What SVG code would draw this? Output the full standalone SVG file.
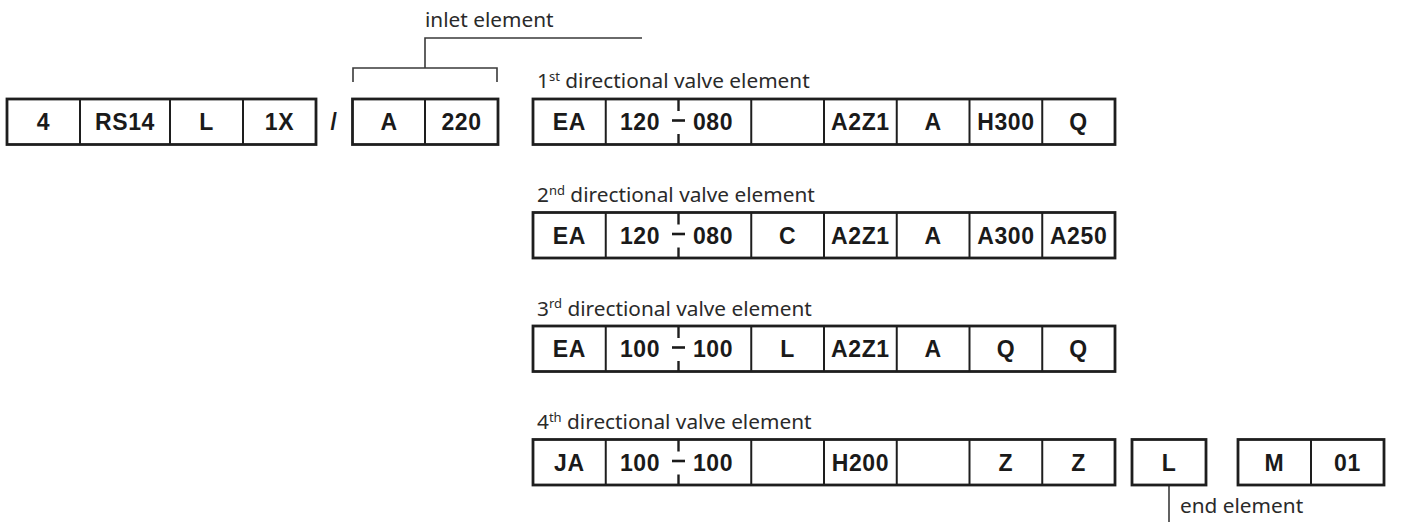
<svg xmlns="http://www.w3.org/2000/svg" width="1426" height="522" viewBox="0 0 1426 522">
<style>
.box{fill:#fff;stroke:#1e1e1e;stroke-width:2.8}
.div{stroke:#1e1e1e;stroke-width:2}
.t{font-family:"Liberation Sans",Arial,sans-serif;font-weight:bold;font-size:23px;letter-spacing:0.6px;fill:#1a1a1a;text-anchor:middle}
.lbl{font-family:"Noto Sans","Liberation Sans",sans-serif;font-size:20.8px;fill:#2a2a2a}
.sup{font-size:13px}
.con{stroke:#3a3a3a;stroke-width:1.6;fill:none}
.dash{stroke:#1a1a1a;stroke-width:2.6}
.tick{stroke:#1e1e1e;stroke-width:2.4}
</style>

<g id="connectors">
<path class="con" d="M353,82 V68 H497 V82"/>
<path class="con" d="M425,68 V38 H642"/>
<path class="con" d="M1169,485 V522"/>
</g>

<g id="type-code">
<rect class="box" x="7" y="99" width="309" height="45.5"/>
<line class="div" x1="80" y1="99" x2="80" y2="144.5"/>
<line class="div" x1="170" y1="99" x2="170" y2="144.5"/>
<line class="div" x1="243" y1="99" x2="243" y2="144.5"/>
<text class="t" x="43.5" y="130">4</text>
<text class="t" x="125" y="130">RS14</text>
<text class="t" x="206.5" y="130">L</text>
<text class="t" x="279.5" y="130">1X</text>
<text class="t" x="334" y="130">/</text>
</g>

<g id="inlet-element">
<rect class="box" x="352.5" y="99" width="145.5" height="45.5"/>
<line class="div" x1="425" y1="99" x2="425" y2="144.5"/>
<text class="t" x="389" y="130">A</text>
<text class="t" x="461.5" y="130">220</text>
<text class="lbl" x="425" y="27">inlet element</text>
</g>

<g id="valve-element-1">
<text class="lbl" x="537" y="88">1<tspan class="sup" dy="-7.5">st</tspan><tspan dy="7.5"> directional valve element</tspan></text>
<rect class="box" x="533" y="99" width="582" height="45.5"/>
<line class="div" x1="605.75" y1="99" x2="605.75" y2="144.5"/>
<line class="div" x1="751.25" y1="99" x2="751.25" y2="144.5"/>
<line class="div" x1="824" y1="99" x2="824" y2="144.5"/>
<line class="div" x1="896.75" y1="99" x2="896.75" y2="144.5"/>
<line class="div" x1="969.5" y1="99" x2="969.5" y2="144.5"/>
<line class="div" x1="1042.25" y1="99" x2="1042.25" y2="144.5"/>
<line class="tick" x1="678.5" y1="99" x2="678.5" y2="111"/>
<line class="tick" x1="678.5" y1="134" x2="678.5" y2="144.5"/>
<line class="dash" x1="672" y1="120.5" x2="685" y2="120.5"/>
<text class="t" x="569.4" y="130">EA</text>
<text class="t" x="640" y="130">120</text>
<text class="t" x="713" y="130">080</text>
<text class="t" x="860.4" y="130">A2Z1</text>
<text class="t" x="933.1" y="130">A</text>
<text class="t" x="1005.9" y="130">H300</text>
<text class="t" x="1078.6" y="130">Q</text>
</g>

<g id="valve-element-2">
<text class="lbl" x="537" y="202">2<tspan class="sup" dy="-7.5">nd</tspan><tspan dy="7.5"> directional valve element</tspan></text>
<rect class="box" x="533" y="212.5" width="582" height="45.5"/>
<line class="div" x1="605.75" y1="212.5" x2="605.75" y2="258"/>
<line class="div" x1="751.25" y1="212.5" x2="751.25" y2="258"/>
<line class="div" x1="824" y1="212.5" x2="824" y2="258"/>
<line class="div" x1="896.75" y1="212.5" x2="896.75" y2="258"/>
<line class="div" x1="969.5" y1="212.5" x2="969.5" y2="258"/>
<line class="div" x1="1042.25" y1="212.5" x2="1042.25" y2="258"/>
<line class="tick" x1="678.5" y1="212.5" x2="678.5" y2="224.5"/>
<line class="tick" x1="678.5" y1="247.5" x2="678.5" y2="258"/>
<line class="dash" x1="672" y1="234" x2="685" y2="234"/>
<text class="t" x="569.4" y="243.5">EA</text>
<text class="t" x="640" y="243.5">120</text>
<text class="t" x="713" y="243.5">080</text>
<text class="t" x="787.6" y="243.5">C</text>
<text class="t" x="860.4" y="243.5">A2Z1</text>
<text class="t" x="933.1" y="243.5">A</text>
<text class="t" x="1005.9" y="243.5">A300</text>
<text class="t" x="1078.6" y="243.5">A250</text>
</g>

<g id="valve-element-3">
<text class="lbl" x="537" y="315.5">3<tspan class="sup" dy="-7.5">rd</tspan><tspan dy="7.5"> directional valve element</tspan></text>
<rect class="box" x="533" y="326" width="582" height="45.5"/>
<line class="div" x1="605.75" y1="326" x2="605.75" y2="371.5"/>
<line class="div" x1="751.25" y1="326" x2="751.25" y2="371.5"/>
<line class="div" x1="824" y1="326" x2="824" y2="371.5"/>
<line class="div" x1="896.75" y1="326" x2="896.75" y2="371.5"/>
<line class="div" x1="969.5" y1="326" x2="969.5" y2="371.5"/>
<line class="div" x1="1042.25" y1="326" x2="1042.25" y2="371.5"/>
<line class="tick" x1="678.5" y1="326" x2="678.5" y2="338"/>
<line class="tick" x1="678.5" y1="361" x2="678.5" y2="371.5"/>
<line class="dash" x1="672" y1="347.5" x2="685" y2="347.5"/>
<text class="t" x="569.4" y="357">EA</text>
<text class="t" x="640" y="357">100</text>
<text class="t" x="713" y="357">100</text>
<text class="t" x="787.6" y="357">L</text>
<text class="t" x="860.4" y="357">A2Z1</text>
<text class="t" x="933.1" y="357">A</text>
<text class="t" x="1005.9" y="357">Q</text>
<text class="t" x="1078.6" y="357">Q</text>
</g>

<g id="valve-element-4">
<text class="lbl" x="537" y="429">4<tspan class="sup" dy="-7.5">th</tspan><tspan dy="7.5"> directional valve element</tspan></text>
<rect class="box" x="533" y="439.5" width="582" height="45.5"/>
<line class="div" x1="605.75" y1="439.5" x2="605.75" y2="485"/>
<line class="div" x1="751.25" y1="439.5" x2="751.25" y2="485"/>
<line class="div" x1="824" y1="439.5" x2="824" y2="485"/>
<line class="div" x1="896.75" y1="439.5" x2="896.75" y2="485"/>
<line class="div" x1="969.5" y1="439.5" x2="969.5" y2="485"/>
<line class="div" x1="1042.25" y1="439.5" x2="1042.25" y2="485"/>
<line class="tick" x1="678.5" y1="439.5" x2="678.5" y2="451.5"/>
<line class="tick" x1="678.5" y1="474.5" x2="678.5" y2="485"/>
<line class="dash" x1="672" y1="461" x2="685" y2="461"/>
<text class="t" x="569.4" y="470.5">JA</text>
<text class="t" x="640" y="470.5">100</text>
<text class="t" x="713" y="470.5">100</text>
<text class="t" x="860.4" y="470.5">H200</text>
<text class="t" x="1005.9" y="470.5">Z</text>
<text class="t" x="1078.6" y="470.5">Z</text>
</g>

<g id="end-element">
<rect class="box" x="1132" y="439.5" width="74" height="45.5"/>
<text class="t" x="1169" y="470.5">L</text>
<text class="lbl" x="1180" y="513">end element</text>
</g>

<g id="additional-element">
<rect class="box" x="1238" y="439.5" width="146" height="45.5"/>
<line class="div" x1="1311" y1="439.5" x2="1311" y2="485"/>
<text class="t" x="1274.5" y="470.5">M</text>
<text class="t" x="1347.5" y="470.5">01</text>
</g>
</svg>
